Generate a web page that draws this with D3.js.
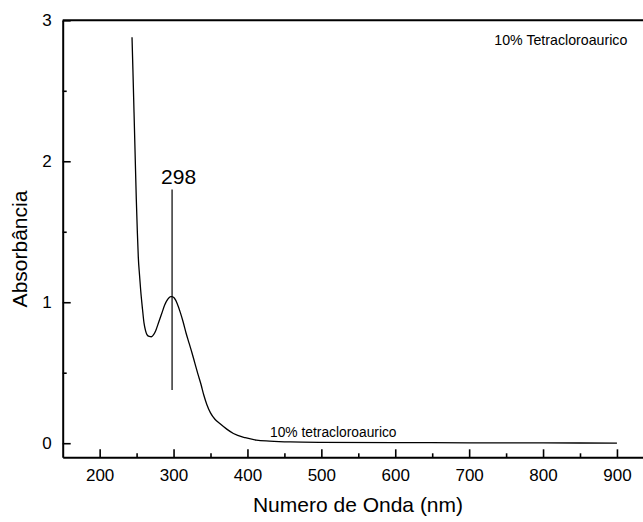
<!DOCTYPE html>
<html>
<head>
<meta charset="utf-8">
<script src="https://cdn.jsdelivr.net/npm/d3@7"></script>
<style>
  html, body { margin: 0; padding: 0; background: #fff; }
  svg { display: block; font-family: "Liberation Sans", Arial, sans-serif; }
</style>
</head>
<body>
<svg id="chart" width="643" height="522"></svg>
<script>
// ---- data ----
const wavelength = [243.8, 245, 246.5, 248, 249.6, 251, 252.3, 254, 255.5, 258, 260, 262, 264, 267, 270, 273, 276, 280, 284, 288, 292, 296, 298, 301, 305, 309, 313, 317, 321, 325, 329, 333, 337, 341, 345, 350, 356, 363, 372, 381, 397, 412, 430, 458, 500, 600, 700, 800, 900];
const absorbance = [2.88, 2.65, 2.35, 2.05, 1.73, 1.50, 1.32, 1.19, 1.087, 0.95, 0.853, 0.80, 0.77, 0.757, 0.755, 0.77, 0.80, 0.86, 0.92, 0.98, 1.02, 1.04, 1.04, 1.03, 0.99, 0.93, 0.86, 0.78, 0.71, 0.64, 0.565, 0.49, 0.42, 0.34, 0.275, 0.215, 0.17, 0.138, 0.10, 0.069, 0.039, 0.022, 0.015, 0.009, 0.006, 0.004, 0.003, 0.002, 0.001];
const xTicks = [200, 300, 400, 500, 600, 700, 800, 900];
const xMinorTicks = [250, 350, 450, 550, 650, 750, 850];
const yTicks = [0, 1, 2, 3];
const yMinorTicks = [0.5, 1.5, 2.5];
const peakWavelength = [298];
const peakLine = [0.377, 1.80];
const peakLabel = ["298"];
const xTitle = "Numero de Onda (nm)";
const yTitle = "Absorbância";
const curveLabel = "10% tetracloroaurico";
const legendLabel = "10% Tetracloroaurico";

// ---- layout ----
const svg = d3.select("#chart");
const x = d3.scaleLinear().domain([150, 950]).range([62.7, 653.9]);
const y = d3.scaleLinear().domain([-0.1, 3.0]).range([457.3, 20.3]);

// curve
const line = d3.line().x((d, i) => x(wavelength[i])).y((d, i) => y(absorbance[i])).curve(d3.curveMonotoneX);
svg.append("path").datum(absorbance).attr("d", line)
  .attr("fill", "none").attr("stroke", "#000").attr("stroke-width", 1.3);

// peak marker
svg.append("line")
  .attr("x1", x(peakWavelength[0])).attr("x2", x(peakWavelength[0]))
  .attr("y1", y(peakLine[0])).attr("y2", y(peakLine[1]))
  .attr("stroke", "#000").attr("stroke-width", 1.2);
svg.append("text").attr("x", x(peakWavelength[0]) - 11).attr("y", 184.3)
  .attr("font-size", 21).text(peakLabel[0]);

// axes
function styleAxis(g) {
  g.select(".domain").attr("stroke-width", 2);
  g.selectAll(".tick line").attr("stroke-width", 1.6);
}
const xAxis = svg.append("g").attr("transform", `translate(0,${y.range()[0]})`)
  .call(d3.axisBottom(x).tickValues(xTicks).tickSize(-8).tickSizeOuter(0).tickPadding(12));
xAxis.selectAll("text").attr("font-size", 17).attr("font-family", "Liberation Sans, Arial, sans-serif");
styleAxis(xAxis);
const xMinor = svg.append("g").attr("transform", `translate(0,${y.range()[0]})`)
  .call(d3.axisBottom(x).tickValues(xMinorTicks).tickSize(-4).tickSizeOuter(0).tickFormat(""));
xMinor.select(".domain").remove();
xMinor.selectAll(".tick line").attr("stroke-width", 1.6);

const yAxis = svg.append("g").attr("transform", `translate(${x.range()[0]},0)`)
  .call(d3.axisLeft(y).tickValues(yTicks).tickSize(-8).tickSizeOuter(0).tickPadding(11).tickFormat(d3.format("d")));
yAxis.selectAll("text").attr("font-size", 17).attr("font-family", "Liberation Sans, Arial, sans-serif");
styleAxis(yAxis);
const yMinor = svg.append("g").attr("transform", `translate(${x.range()[0]},0)`)
  .call(d3.axisLeft(y).tickValues(yMinorTicks).tickSize(-4).tickSizeOuter(0).tickFormat(""));
yMinor.select(".domain").remove();
yMinor.selectAll(".tick line").attr("stroke-width", 1.6);

// top and right frame
svg.append("line").attr("x1", x.range()[0]).attr("x2", x.range()[1])
  .attr("y1", y.range()[1]).attr("y2", y.range()[1]).attr("stroke", "#000").attr("stroke-width", 2);
svg.append("line").attr("x1", x.range()[1]).attr("x2", x.range()[1])
  .attr("y1", y.range()[1]).attr("y2", y.range()[0]).attr("stroke", "#000").attr("stroke-width", 2);

// titles
svg.append("text").attr("x", 358).attr("y", 512).attr("text-anchor", "middle")
  .attr("font-size", 21).text(xTitle);
svg.append("text").attr("transform", "translate(27,249) rotate(-90)").attr("text-anchor", "middle")
  .attr("font-size", 21).text(yTitle);

// labels
svg.append("text").attr("x", 270).attr("y", 436.7).attr("font-size", 13.8).text(curveLabel);
svg.append("text").attr("x", 494.3).attr("y", 45).attr("font-size", 14.2).text(legendLabel);
</script>
</body>
</html>
